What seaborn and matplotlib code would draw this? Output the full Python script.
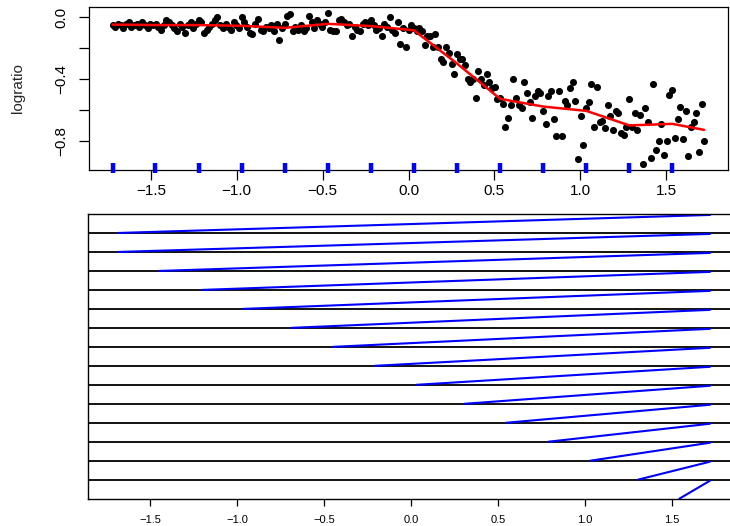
import numpy as np
import pandas as pd
import matplotlib
matplotlib.use("Agg")
import matplotlib.pyplot as plt
import seaborn as sns

# standardized range, evenly spaced observations
n_obs = 221
range_lo, range_hi = -1.723, 1.723

# logratio, 16 points per knot interval
logratio = [
    -0.05, -0.06, -0.04, -0.05, -0.07, -0.04, -0.03, -0.06, -0.05, -0.04, -0.06, -0.03, -0.05, -0.07, -0.04, -0.05,
    -0.04, -0.06, -0.08, -0.05, -0.02, -0.03, -0.05, -0.07, -0.09, -0.04, -0.06, -0.10, -0.05, -0.03, -0.07, -0.04,
    -0.02, -0.03, -0.10, -0.08, -0.06, -0.04, -0.02, 0.00, -0.05, -0.07, -0.04, -0.06, -0.08, -0.03, -0.05, -0.07,
    0.00, -0.03, -0.06, -0.10, -0.11, -0.04, -0.01, -0.08, -0.09, -0.06, -0.07, -0.05, -0.09, -0.04, -0.15, -0.07,
    -0.04, 0.01, 0.02, -0.09, -0.06, -0.08, -0.05, -0.09, -0.07, 0.01, -0.03, -0.07, -0.02, -0.04, -0.06, -0.03,
    0.03, -0.08, -0.09, -0.09, -0.02, -0.01, -0.03, -0.05, -0.04, -0.12, -0.06, -0.08, -0.09, -0.04, -0.03, -0.05,
    -0.015, -0.05, -0.08, -0.07, -0.12, -0.04, -0.06, 0.00, -0.08, -0.10, -0.03, -0.17, -0.07, -0.19, -0.08, -0.05,
    -0.07, -0.09, -0.07, -0.09, -0.18, -0.12, -0.12, -0.19, -0.11, -0.19, -0.27, -0.29, -0.19, -0.23, -0.30, -0.37,
    -0.24, -0.27, -0.27, -0.31, -0.40, -0.42, -0.40, -0.52, -0.35, -0.40, -0.44, -0.37, -0.42, -0.46, -0.45, -0.53,
    -0.52, -0.56, -0.71, -0.65, -0.57, -0.40, -0.52, -0.57, -0.59, -0.42, -0.49, -0.55, -0.65, -0.51, -0.48, -0.49,
    -0.61, -0.69, -0.51, -0.48, -0.66, -0.77, -0.48, -0.77, -0.54, -0.57, -0.46, -0.42, -0.54, -0.92, -0.64, -0.83,
    -0.59, -0.55, -0.43, -0.71, -0.45, -0.68, -0.67, -0.72, -0.57, -0.64, -0.73, -0.61, -0.62, -0.75, -0.76, -0.71,
    -0.53, -0.71, -0.62, -0.73, -0.63, -0.95, -0.59, -0.68, -0.91, -0.43, -0.86, -0.80, -0.69, -0.89, -0.80, -0.50,
    -0.47, -0.78, -0.66, -0.58, -0.79, -0.61, -0.90, -0.71, -0.68, -0.62, -0.87, -0.56, -0.80,
]

knots = [-1.723, -1.473, -1.221, -0.969, -0.721, -0.469, -0.217,
         0.031, 0.283, 0.533, 0.783, 1.035, 1.285, 1.535]

# fitted linear spline (values at knots + right end)
fit_x = knots + [1.72]
fit_y = [-0.047, -0.050, -0.050, -0.055, -0.068, -0.042, -0.057,
         -0.084, -0.300, -0.528, -0.578, -0.606, -0.700, -0.690, -0.729]

# basis functions, one per strip (top to bottom)
basis_start = [-1.686, -1.686, -1.448, -1.203, -0.966, -0.690, -0.450, -0.209,
               0.029, 0.306, 0.546, 0.787, 1.029, 1.303, 1.542]
basis_end = 1.718

xticks = [-1.5, -1.0, -0.5, 0.0, 0.5, 1.0, 1.5]
yticks = [0.0, -0.2, -0.4, -0.6, -0.8]
ytick_labels = ["0.0", "", "\u22120.4", "", "\u22120.8"]

sns.set_style("ticks")
plt.rcParams['font.family'] = ['Liberation Sans', 'DejaVu Sans']
plt.rcParams['axes.unicode_minus'] = True

W, H = 730, 526
fig = plt.figure(figsize=(W / 100, H / 100), dpi=100)
ax1 = fig.add_axes([89 / W, 1 - 170 / H, 639 / W, 163 / H])
ax2 = fig.add_axes([88 / W, 1 - 498.7 / H, 646 / W, 284.7 / H])

# ---- top panel: data + fit
pts = pd.DataFrame({"range": np.linspace(range_lo, range_hi, n_obs), "logratio": logratio})
sns.scatterplot(data=pts, x="range", y="logratio", color="black", s=26,
                linewidth=0, ax=ax1, zorder=2)
fit = pd.DataFrame({"x": fit_x, "y": fit_y})
sns.lineplot(data=fit, x="x", y="y", color="#FF0000", lw=1.8, sort=False, ax=ax1, zorder=3)

ax1.set_xlim(-1.86, 1.86)
ax1.set_ylim(-0.989, 0.067)
ax1.plot(knots, [-0.973] * len(knots), ls="none", marker="|", ms=7.5, mew=3.2,
         color="#0000FF", clip_on=False, zorder=4)

ax1.set_xticks(xticks)
ax1.set_xticklabels([f"{t:.1f}".replace("-", "\u2212") for t in xticks])
ax1.set_yticks(yticks)
ax1.set_yticklabels(ytick_labels, rotation=90, va="center")
ax1.tick_params(axis="both", length=7.2, width=0.9, color="black", labelsize=11, labelcolor="black")
ax1.tick_params(axis="x", pad=3)
ax1.tick_params(axis="y", pad=8)
ax1.set_xlabel("")
ax1.set_ylabel("logratio", fontsize=11)
ax1.yaxis.set_label_coords(-0.1, 0.5)
for sp in ax1.spines.values():
    sp.set_color("black")
    sp.set_linewidth(0.9)

# ---- bottom panel: basis functions, one strip each
n_strip = len(basis_start)
rows = []
for k, s in enumerate(basis_start):
    base = n_strip - 1 - k
    rows.append({"strip": k, "x": s, "y": base})
    rows.append({"strip": k, "x": basis_end, "y": base + 0.95})
basis = pd.DataFrame(rows)

for k in range(1, n_strip):
    ax2.axhline(k, color="black", lw=1.3, zorder=1)
sns.lineplot(data=basis, x="x", y="y", units="strip", estimator=None,
             color="#0000FF", lw=1.5, ax=ax2, zorder=2)

ax2.set_xlim(-1.856, 1.856)
ax2.set_ylim(0, n_strip)
ax2.set_yticks([])
ax2.set_xticks(xticks)
ax2.set_xticklabels([f"{t:.1f}".replace("-", "\u2212") for t in xticks])
ax2.tick_params(axis="x", length=5, width=0.9, color="black", labelsize=8, pad=7, labelcolor="black")
ax2.set_xlabel("")
ax2.set_ylabel("")
for sp in ax2.spines.values():
    sp.set_color("black")
    sp.set_linewidth(1.0)

fig.savefig("out.png", dpi=100)
